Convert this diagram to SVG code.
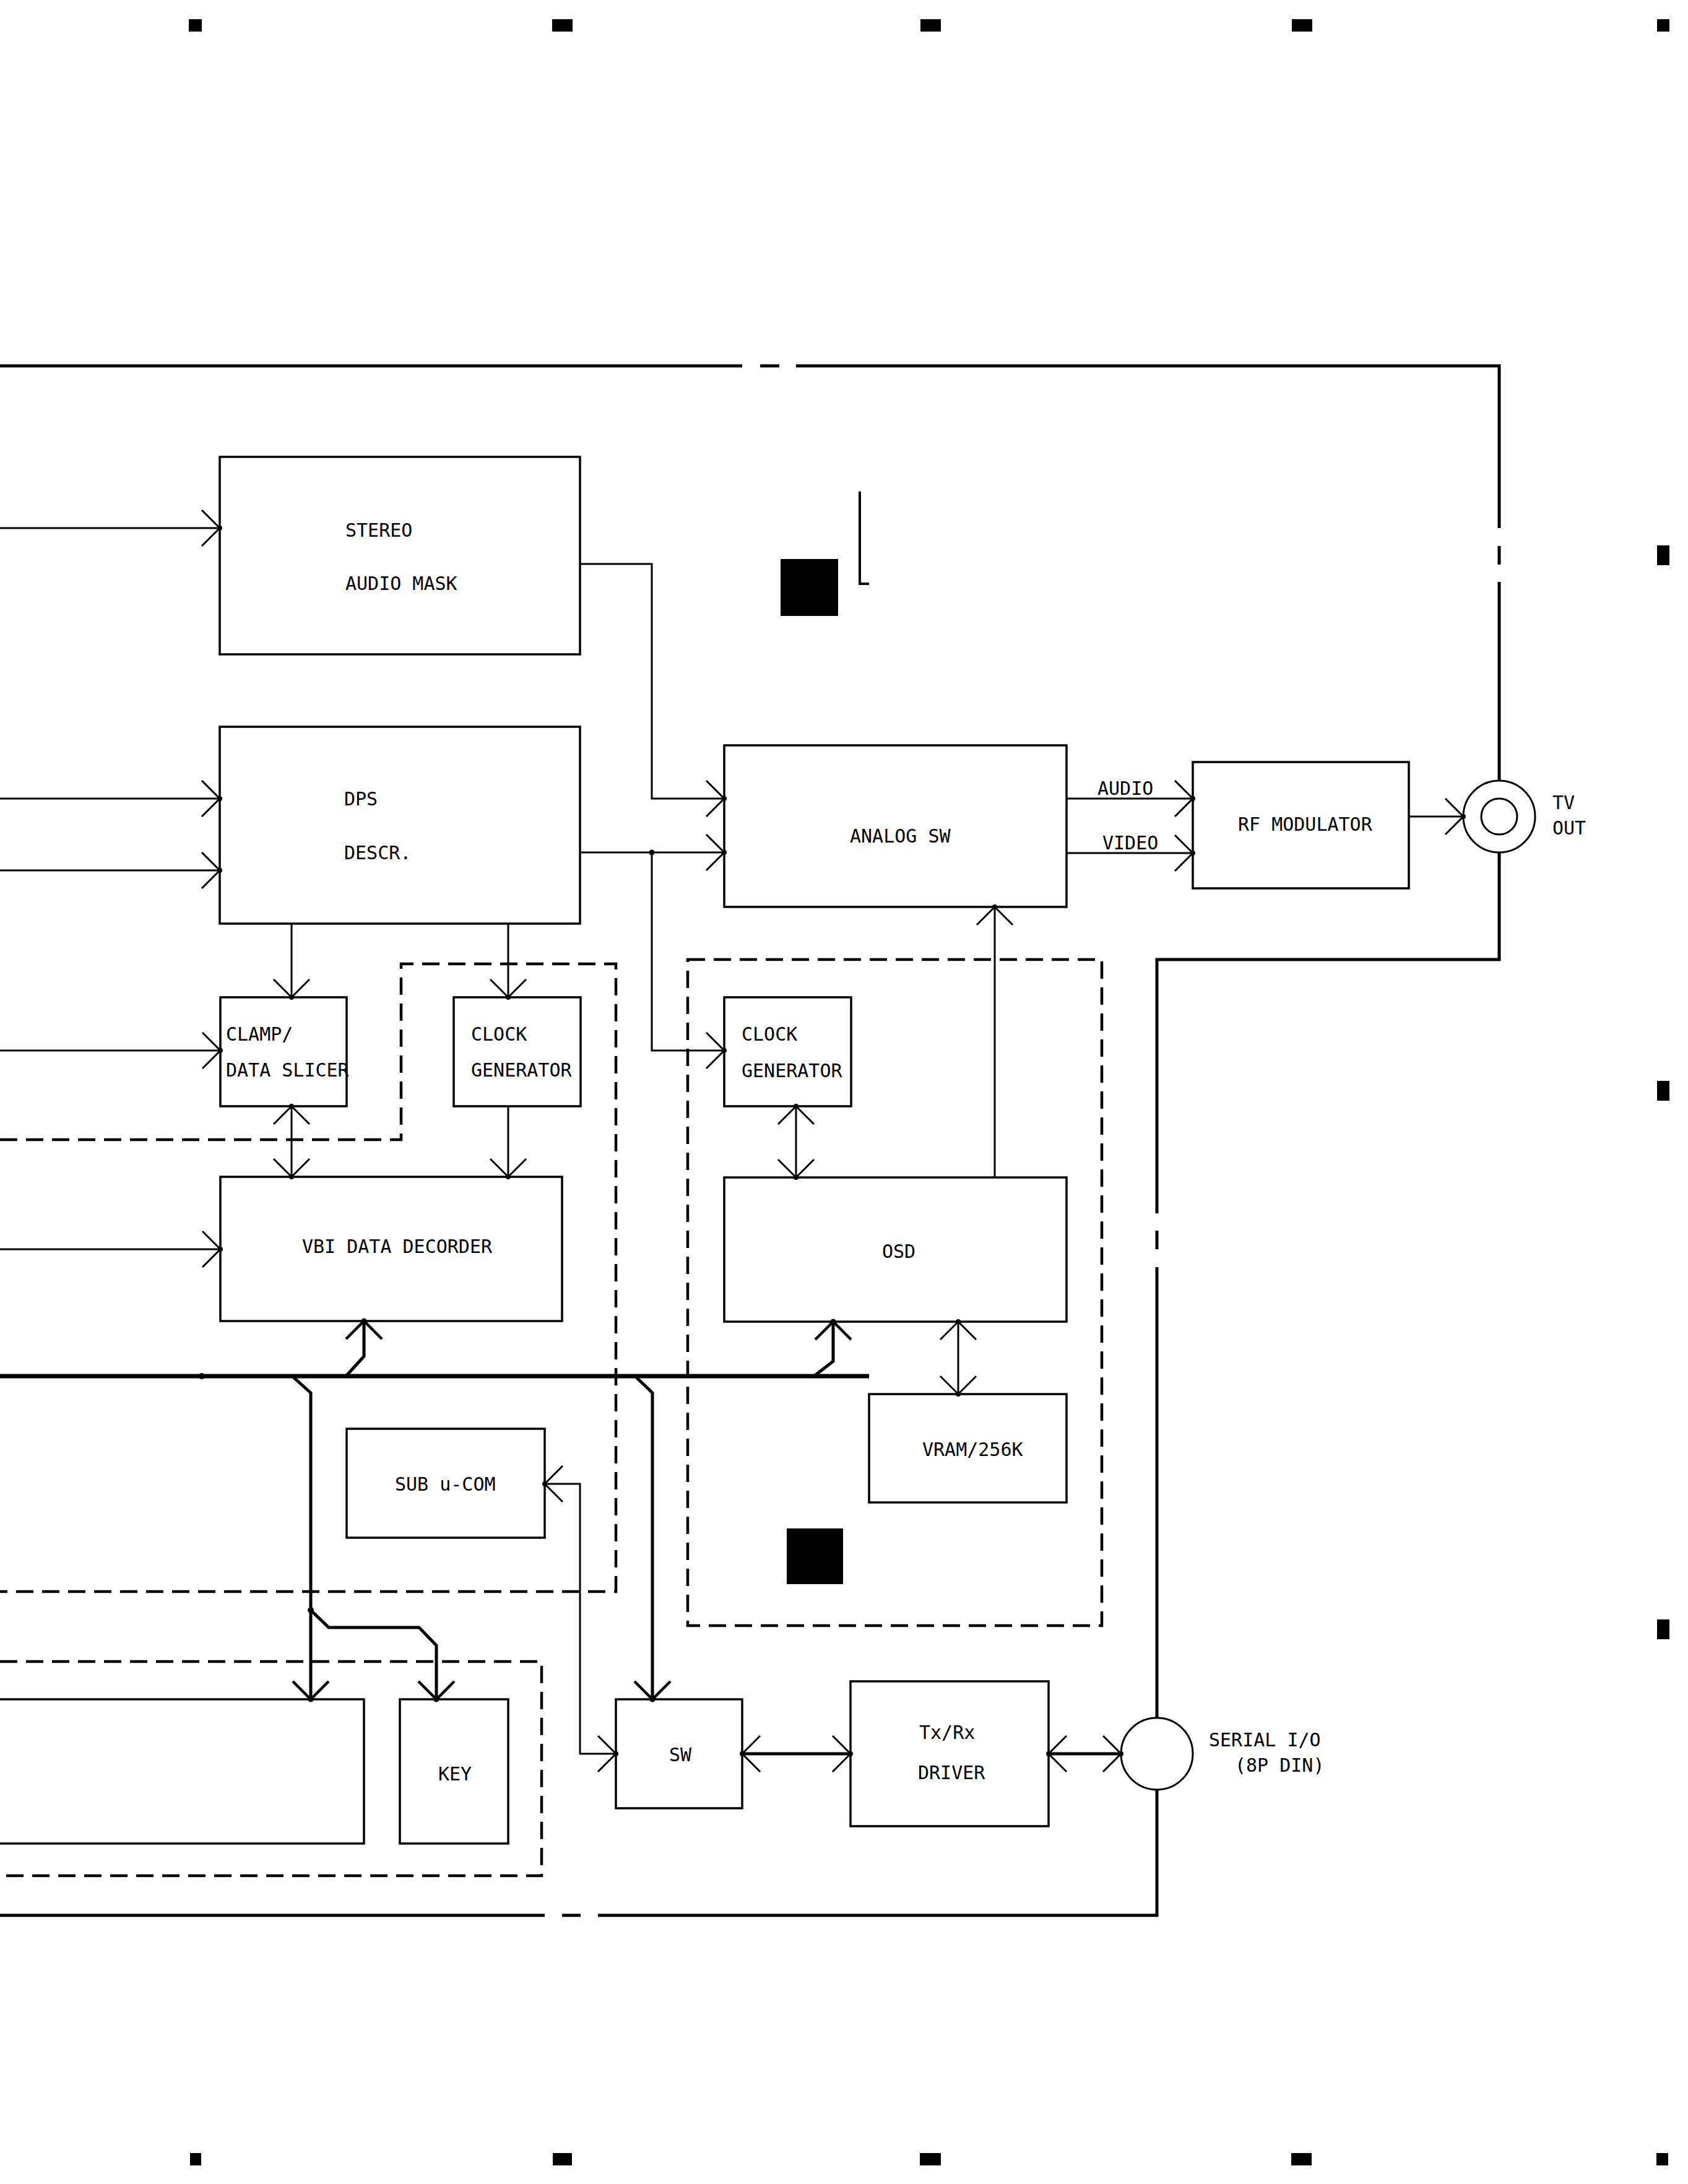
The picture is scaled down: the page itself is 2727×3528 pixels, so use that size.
<svg xmlns="http://www.w3.org/2000/svg" width="2727" height="3528" viewBox="0 0 2727 3528">
<style>
.box{fill:none;stroke:#000;stroke-width:3.5}
.t{font-family:"DejaVu Sans Mono","Liberation Mono",monospace;font-size:30px;fill:#000}
.c{fill:none;stroke:#000;stroke-width:3}
.ct{fill:none;stroke:#000;stroke-width:5}
.brd{fill:none;stroke:#000;stroke-width:5}
.dash{fill:none;stroke:#000;stroke-width:4.5;stroke-dasharray:28 14}
.bus{fill:none;stroke:#000;stroke-width:7}
</style>
<defs>
<marker id="a" markerUnits="userSpaceOnUse" markerWidth="40" markerHeight="70" viewBox="-35 -35 40 70" refX="0" refY="0" orient="auto-start-reverse" overflow="visible">
<path d="M-29,-29 L0,0 L-29,29" fill="none" stroke="#000" stroke-width="3"/>
<circle r="4" fill="#000"/>
</marker>
<marker id="aT" markerUnits="userSpaceOnUse" markerWidth="40" markerHeight="70" viewBox="-35 -35 40 70" refX="0" refY="0" orient="auto-start-reverse" overflow="visible">
<path d="M-29,-29 L0,0 L-29,29" fill="none" stroke="#000" stroke-width="4.5"/>
<circle r="4.5" fill="#000"/>
</marker>
</defs>
<rect width="2727" height="3528" fill="#fff"/>
<g id="marks" fill="#000">
<rect x="305" y="31" width="21" height="20"/>
<rect x="892" y="31" width="33" height="20"/>
<rect x="1487" y="31" width="33" height="20"/>
<rect x="2087" y="31" width="33" height="20"/>
<rect x="2677" y="31" width="20" height="20"/>
<rect x="307" y="3478" width="18" height="20"/>
<rect x="893" y="3478" width="31" height="20"/>
<rect x="1486" y="3478" width="34" height="20"/>
<rect x="2086" y="3478" width="33" height="20"/>
<rect x="2676" y="3478" width="19" height="20"/>
<rect x="2677" y="881" width="20" height="32"/>
<rect x="2677" y="1746" width="20" height="32"/>
<rect x="2677" y="2616" width="20" height="32"/>
<rect x="1261" y="903" width="93" height="92"/>
<rect x="1271" y="2469" width="91" height="90"/>
</g>
<g id="border">
<path class="brd" d="M0,591 H1199 M1228,591 H1259 M1286,591 H2422 V853 M2422,882 V912 M2422,940 V1261 M2422,1377 V1550 H1869 V1960 M1869,1988 V2018 M1869,2047 V2775 M1869,2891 V3094 H966 M938,3094 H908 M880,3094 H0"/>
<path d="M1389,794 V943 H1404" fill="none" stroke="#000" stroke-width="4"/>
</g>
<g id="dashed">
<path class="dash" d="M0,1841 H648 V1557 H995 V2571 H0"/>
<rect class="dash" x="1111" y="1550" width="669" height="1076"/>
<path class="dash" d="M0,2684 H875 V3030 H0"/>
</g>
<g id="n-stereo"><rect class="box" x="355" y="738" width="582" height="319"/><text class="t" x="558" y="867">STEREO</text><text class="t" x="558" y="953">AUDIO MASK</text></g>
<g id="n-dps"><rect class="box" x="355" y="1174" width="582" height="318"/><text class="t" x="556" y="1301">DPS</text><text class="t" x="556" y="1388">DESCR.</text></g>
<g id="n-analog"><rect class="box" x="1170" y="1204" width="553" height="261"/><text class="t" x="1373" y="1361">ANALOG SW</text></g>
<g id="n-rf"><rect class="box" x="1927" y="1231" width="349" height="204"/><text class="t" x="2000" y="1342">RF MODULATOR</text></g>
<g id="n-tvout"><circle cx="2422" cy="1319" r="58" fill="none" stroke="#000" stroke-width="3"/><circle cx="2422" cy="1319" r="29" fill="none" stroke="#000" stroke-width="3"/><text class="t" x="2508" y="1307">TV</text><text class="t" x="2508" y="1348">OUT</text></g>
<g id="n-clamp"><rect class="box" x="356" y="1611" width="204" height="176"/><text class="t" x="365" y="1681">CLAMP/</text><text class="t" x="365" y="1739">DATA SLICER</text></g>
<g id="n-clock1"><rect class="box" x="733" y="1611" width="205" height="176"/><text class="t" x="761" y="1681">CLOCK</text><text class="t" x="761" y="1739">GENERATOR</text></g>
<g id="n-clock2"><rect class="box" x="1170" y="1611" width="205" height="176"/><text class="t" x="1198" y="1681">CLOCK</text><text class="t" x="1198" y="1740">GENERATOR</text></g>
<g id="n-vbi"><rect class="box" x="356" y="1901" width="552" height="233"/><text class="t" x="488" y="2024">VBI DATA DECORDER</text></g>
<g id="n-osd"><rect class="box" x="1170" y="1902" width="553" height="233"/><text class="t" x="1425" y="2032">OSD</text></g>
<g id="n-vram"><rect class="box" x="1404" y="2252" width="319" height="175"/><text class="t" x="1490" y="2352">VRAM/256K</text></g>
<g id="n-subucom"><rect class="box" x="560" y="2308" width="320" height="176"/><text class="t" x="638" y="2408">SUB u-COM</text></g>
<g id="n-mainbox"><rect class="box" x="-10" y="2745" width="598" height="233"/></g>
<g id="n-key"><rect class="box" x="646" y="2745" width="175" height="233"/><text class="t" x="708" y="2876">KEY</text></g>
<g id="n-sw"><rect class="box" x="995" y="2745" width="204" height="176"/><text class="t" x="1081" y="2845">SW</text></g>
<g id="n-txrx"><rect class="box" x="1374" y="2716" width="320" height="234"/><text class="t" x="1485" y="2809">Tx/Rx</text><text class="t" x="1483" y="2874">DRIVER</text></g>
<g id="n-serial"><circle cx="1869" cy="2833" r="58" fill="none" stroke="#000" stroke-width="3"/><text class="t" x="1953" y="2821">SERIAL I/O</text><text class="t" x="1995" y="2862">(8P DIN)</text></g>
<g id="connectors">
<path class="c" d="M0,853 H355" marker-end="url(#a)"/>
<path class="c" d="M0,1290 H355" marker-end="url(#a)"/>
<path class="c" d="M0,1406 H355" marker-end="url(#a)"/>
<path class="c" d="M937,911 H1053 V1290 H1170" marker-end="url(#a)"/>
<path class="c" d="M937,1377 H1170" marker-end="url(#a)"/>
<circle cx="1053" cy="1377" r="4.5" fill="#000"/>
<path class="c" d="M1053,1377 V1697 H1170" marker-end="url(#a)"/>
<path class="c" d="M471,1492 V1611" marker-end="url(#a)"/>
<path class="c" d="M821,1492 V1611" marker-end="url(#a)"/>
<path class="c" d="M0,1697 H356" marker-end="url(#a)"/>
<path class="c" d="M471,1787 V1901" marker-start="url(#a)" marker-end="url(#a)"/>
<path class="c" d="M821,1787 V1901" marker-end="url(#a)"/>
<path class="c" d="M0,2018 H356" marker-end="url(#a)"/>
<path class="bus" d="M0,2223 H1404"/>
<circle cx="326" cy="2223" r="5" fill="#000"/>
<path class="ct" d="M559,2223 L588,2191 V2134" marker-end="url(#aT)"/>
<path class="ct" d="M472,2223 L502,2250 V2745" marker-end="url(#aT)"/>
<circle cx="502" cy="2601" r="5" fill="#000"/>
<path class="ct" d="M502,2601 L531,2629 H677 L705,2658 V2745" marker-end="url(#aT)"/>
<path class="ct" d="M1026,2223 L1054,2250 V2745" marker-end="url(#aT)"/>
<path class="ct" d="M1315,2223 L1346,2199 V2135" marker-end="url(#aT)"/>
<path class="c" d="M1286,1787 V1902" marker-start="url(#a)" marker-end="url(#a)"/>
<path class="c" d="M1548,2135 V2252" marker-start="url(#a)" marker-end="url(#a)"/>
<path class="c" d="M1607,1902 V1465" marker-end="url(#a)"/>
<path class="c" d="M1723,1290 H1927" marker-end="url(#a)"/>
<path class="c" d="M1723,1378 H1927" marker-end="url(#a)"/>
<text class="t" x="1773" y="1284">AUDIO</text>
<text class="t" x="1781" y="1372">VIDEO</text>
<path class="c" d="M2276,1319 H2364" marker-end="url(#a)"/>
<path class="c" d="M880,2397 H937 V2833 H995" marker-start="url(#a)" marker-end="url(#a)"/>
<path class="ct" d="M1199,2833 H1374" marker-start="url(#a)" marker-end="url(#a)"/>
<path class="ct" d="M1694,2833 H1811" marker-start="url(#a)" marker-end="url(#a)"/>
</g>
</svg>
